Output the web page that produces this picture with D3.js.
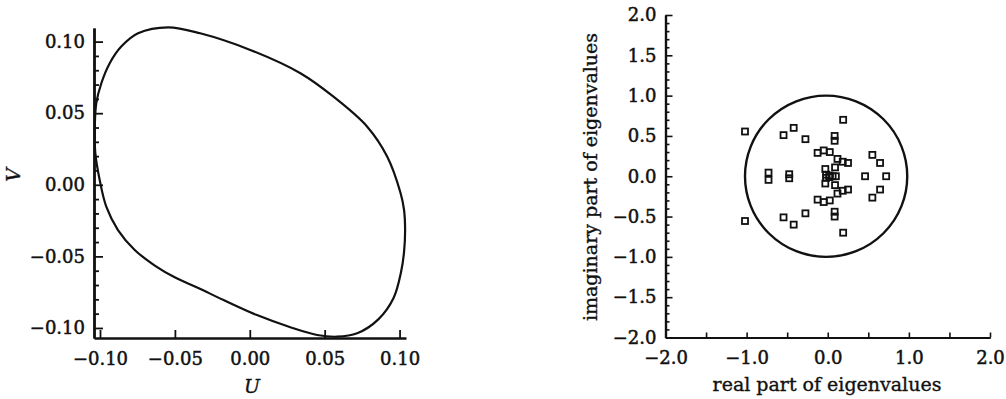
<!DOCTYPE html>
<html>
<head>
<meta charset="utf-8">
<script src="https://cdn.jsdelivr.net/npm/d3@7"></script>
<style>
  body { margin: 0; background: #fff; }
  svg { display: block; }
  .axis path, .axis line { stroke: #111; }
  .axis text { font-family: "DejaVu Serif", serif; font-size: 18px; fill: #111; stroke: #111; stroke-width: 0.5px; }
  .title { font-family: "DejaVu Serif", serif; fill: #111; stroke: #111; stroke-width: 0.35px; }
</style>
</head>
<body>
<script>
// limit cycle in the (U, V) plane
const cycleU = [-0.0545, -0.0331, 0.0003, 0.0338, 0.0559, 0.0784, 0.0918, 0.1007, 0.103, 0.1037,
  0.103, 0.101, 0.096, 0.086, 0.0717, 0.0583, 0.045, 0.0271, 0.0048, -0.0175,
  -0.0344, -0.0498, -0.0634, -0.0768, -0.088, -0.0958, -0.1002, -0.1031, -0.1035, -0.1025,
  -0.0991, -0.0935, -0.0858, -0.0746];
const cycleV = [0.11, 0.1058, 0.0942, 0.0779, 0.0615, 0.0406, 0.0196, -0.0059, -0.0176, -0.0316,
  -0.0469, -0.0609, -0.0791, -0.0938, -0.1037, -0.1061, -0.1049, -0.0995, -0.091, -0.0805,
  -0.0721, -0.0648, -0.0564, -0.0455, -0.0316, -0.0153, 0.0034, 0.022, 0.0383, 0.0569,
  0.0709, 0.0849, 0.0965, 0.1058];

// eigenvalues: conjugate pairs (re, +-im) plus the real ones
const pairRe = [0.19, -0.42, -0.545, -0.275, 0.085, 0.085, -0.125, -0.05, 0.025, 0.12,
  0.185, 0.25, 0.55, 0.645, 0.09, -0.03, -0.73, -0.475, -1.02, -0.02, 0.02];
const pairIm = [0.70, 0.60, 0.51, 0.46, 0.50, 0.44, 0.29, 0.32, 0.30, 0.215,
  0.18, 0.165, 0.265, 0.165, 0.11, 0.09, 0.045, 0.025, 0.555, 0.02, 0.01];
const realEig = [0.06, 0.10, 0.46, 0.72];

// unit circle
const circleC = [-0.02, 0.0];
const circleR = 1.0;

const uTicks = [-0.10, -0.05, 0.00, 0.05, 0.10];
const vTicks = [-0.10, -0.05, 0.00, 0.05, 0.10];
const reTicks = [-2, -1, 0, 1, 2];
const imTicks = [-2, -1.5, -1, -0.5, 0, 0.5, 1, 1.5, 2];

const svg = d3.select("body").append("svg")
    .attr("width", 1006)
    .attr("height", 399);

// ---------- left panel ----------
const xU = d3.scaleLinear().domain([-0.104, 0.1043]).range([94, 406]);
const yV = d3.scaleLinear().domain([-0.107, 0.1095]).range([338, 28]);

const left = svg.append("g");

left.append("g")
    .attr("class", "axis")
    .attr("transform", `translate(0,${yV.range()[0]})`)
    .call(d3.axisBottom(xU).tickValues(uTicks).tickSizeInner(-8).tickSizeOuter(0)
        .tickPadding(14).tickFormat(d3.format(".2f")));

const vMinor = d3.range(-10, 11).map(d => d / 100).filter(d => Math.abs(d * 100) % 5 !== 0);
left.append("g")
    .attr("class", "axis")
    .attr("transform", `translate(${xU.range()[0]},0)`)
    .call(d3.axisLeft(yV).tickValues(vMinor).tickSizeInner(-5).tickSizeOuter(0).tickFormat(""));

left.append("g")
    .attr("class", "axis")
    .attr("transform", `translate(${xU.range()[0]},0)`)
    .call(d3.axisLeft(yV).tickValues(vTicks).tickSizeInner(-9).tickSizeOuter(0)
        .tickPadding(9).tickFormat(d3.format(".2f")));

left.selectAll(".axis path").attr("stroke-width", 2.4);
left.selectAll(".axis line").attr("stroke-width", 1.8);

const cycle = cycleU.map((u, i) => [u, cycleV[i]]);
left.append("path")
    .datum(cycle)
    .attr("fill", "none")
    .attr("stroke", "#111")
    .attr("stroke-width", 2.2)
    .attr("d", d3.line().x(d => xU(d[0])).y(d => yV(d[1])).curve(d3.curveCatmullRomClosed));

left.append("text")
    .attr("class", "title")
    .attr("transform", "translate(13,175) rotate(-90)")
    .attr("text-anchor", "middle")
    .attr("dominant-baseline", "central")
    .style("font-style", "italic")
    .style("font-size", "19px")
    .text("V");

left.append("text")
    .attr("class", "title")
    .attr("x", 252)
    .attr("y", 393)
    .attr("text-anchor", "middle")
    .style("font-style", "italic")
    .style("font-size", "19px")
    .text("U");

// ---------- right panel ----------
const xR = d3.scaleLinear().domain([-2, 2]).range([665.5, 990]);
const yI = d3.scaleLinear().domain([-2, 2]).range([337.5, 15]);

const right = svg.append("g");

right.append("g")
    .attr("class", "axis")
    .attr("transform", `translate(0,${yI.range()[0]})`)
    .call(d3.axisBottom(xR).tickValues(d3.range(-1.5, 2.01, 0.5)).tickSizeInner(-5).tickSizeOuter(0).tickFormat(""));

right.append("g")
    .attr("class", "axis")
    .attr("transform", `translate(0,${yI.range()[0]})`)
    .call(d3.axisBottom(xR).tickValues(reTicks).tickSizeInner(0).tickSizeOuter(0)
        .tickPadding(14).tickFormat(d3.format(".1f")));

const imMinor = d3.range(-20, 21).map(d => d / 10).filter(d => Math.round(d * 10) % 5 !== 0);
right.append("g")
    .attr("class", "axis")
    .attr("transform", `translate(${xR.range()[0]},0)`)
    .call(d3.axisLeft(yI).tickValues(imMinor).tickSizeInner(-4).tickSizeOuter(0).tickFormat(""));

right.append("g")
    .attr("class", "axis")
    .attr("transform", `translate(${xR.range()[0]},0)`)
    .call(d3.axisLeft(yI).tickValues(imTicks).tickSizeInner(-7).tickSizeOuter(0)
        .tickPadding(9).tickFormat(d3.format(".1f")));

right.selectAll(".axis path").attr("stroke-width", 2.2);
right.selectAll(".axis line").attr("stroke-width", 1.6);

right.append("ellipse")
    .attr("cx", xR(circleC[0]))
    .attr("cy", yI(circleC[1]))
    .attr("rx", xR(circleR) - xR(0))
    .attr("ry", yI(0) - yI(circleR))
    .attr("fill", "none")
    .attr("stroke", "#111")
    .attr("stroke-width", 2.4);

const eig = [];
pairRe.forEach((r, i) => {
    eig.push([r, pairIm[i]]);
    eig.push([r, -pairIm[i]]);
});
realEig.forEach(r => eig.push([r, 0]));

const sq = 6;
right.selectAll(".eig")
    .data(eig)
    .enter().append("rect")
    .attr("class", "eig")
    .attr("x", d => xR(d[0]) - sq / 2)
    .attr("y", d => yI(d[1]) - sq / 2)
    .attr("width", sq)
    .attr("height", sq)
    .attr("fill", "none")
    .attr("stroke", "#111")
    .attr("stroke-width", 1.8);

right.append("text")
    .attr("class", "title")
    .attr("transform", "translate(590,177) rotate(-90)")
    .attr("text-anchor", "middle")
    .attr("dominant-baseline", "central")
    .style("font-size", "19px")
    .text("imaginary part of eigenvalues");

right.append("text")
    .attr("class", "title")
    .attr("x", 827)
    .attr("y", 391)
    .attr("text-anchor", "middle")
    .style("font-size", "19px")
    .text("real part of eigenvalues");
</script>
</body>
</html>
